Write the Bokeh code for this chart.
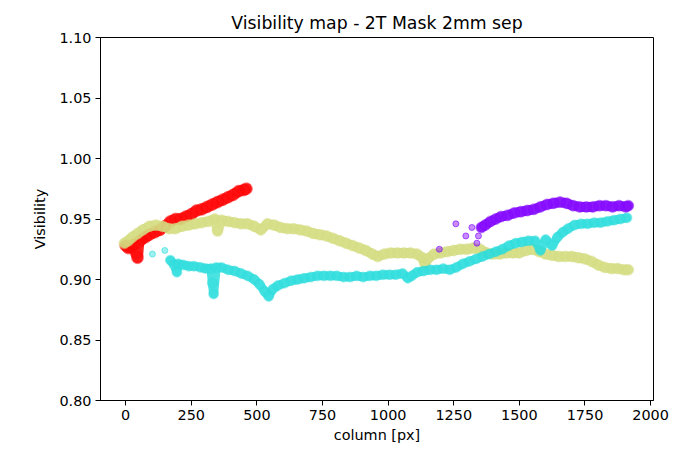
from bokeh.plotting import figure
from bokeh.models import FixedTicker, NumeralTickFormatter, Range1d
from bokeh.embed import file_html
from bokeh.resources import INLINE

# Visibility per column for each fringe track (column [px], visibility)
red_col = [0, 10, 20, 30, 40, 45, 50, 60, 75, 90, 110, 130, 150, 170, 190, 210, 230,
           250, 270, 290, 310, 330, 350, 370, 390, 410, 430, 450, 460]
red_vis = [0.928, 0.926, 0.927, 0.929, 0.922, 0.918, 0.931, 0.933, 0.935, 0.937, 0.939,
           0.941, 0.944, 0.948, 0.950, 0.950, 0.952, 0.954, 0.957, 0.958, 0.960, 0.962,
           0.964, 0.966, 0.968, 0.970, 0.973, 0.974, 0.975]

olive_col = [-5, 10, 25, 45, 65, 90, 115, 140, 165, 190, 215, 240, 265, 290, 315, 340, 350,
             365, 390, 415, 440, 465, 490, 515, 540, 565, 590, 615, 640, 665, 690, 715,
             740, 765, 790, 815, 840, 865, 890, 915, 940, 960, 985, 1010, 1035, 1060, 1085,
             1110, 1130, 1140, 1150, 1175, 1200, 1225, 1250, 1275, 1300, 1325, 1350, 1375,
             1400, 1425, 1450, 1475, 1500, 1525, 1550, 1575, 1600, 1625, 1650, 1675, 1700,
             1725, 1750, 1775, 1800, 1825, 1850, 1875, 1900, 1915]
olive_vis = [0.930, 0.932, 0.935, 0.938, 0.941, 0.944, 0.945, 0.944, 0.942, 0.942, 0.944,
             0.945, 0.946, 0.947, 0.948, 0.950, 0.940, 0.949, 0.948, 0.947, 0.946, 0.946,
             0.944, 0.941, 0.946, 0.945, 0.943, 0.942, 0.942, 0.941, 0.940, 0.938, 0.937,
             0.936, 0.934, 0.932, 0.930, 0.928, 0.926, 0.924, 0.921, 0.919, 0.921, 0.922,
             0.922, 0.922, 0.922, 0.921, 0.918, 0.913, 0.917, 0.921, 0.922, 0.923, 0.924,
             0.925, 0.925, 0.926, 0.925, 0.922, 0.921, 0.921, 0.922, 0.922, 0.922, 0.924,
             0.925, 0.923, 0.921, 0.920, 0.919, 0.919, 0.919, 0.918, 0.917, 0.915, 0.912,
             0.910, 0.909, 0.909, 0.908, 0.908]

cyan_col = [170, 185, 195, 200, 220, 240, 260, 285, 305, 325, 330, 335, 345, 365,
            390, 415, 440, 465, 490, 510, 530, 545, 560, 580, 605, 630, 655, 680, 705, 730,
            755, 780, 805, 830, 855, 880, 905, 930, 955, 980, 1005, 1030, 1055, 1075, 1090,
            1110, 1135, 1160, 1185, 1210, 1235, 1260, 1285, 1310, 1335, 1360, 1385, 1410,
            1435, 1460, 1485, 1510, 1535, 1560, 1580, 1600, 1625, 1645, 1665, 1685, 1710,
            1735, 1760, 1785, 1810, 1835, 1860, 1885, 1910]
cyan_vis = [0.916, 0.912, 0.906, 0.913, 0.912, 0.911, 0.911, 0.910, 0.909,
            0.909, 0.897, 0.888, 0.910, 0.910, 0.908, 0.907, 0.905, 0.903, 0.900, 0.896,
            0.890, 0.886, 0.892, 0.895, 0.897, 0.899, 0.900, 0.901, 0.902, 0.903, 0.903,
            0.903, 0.903, 0.902, 0.902, 0.903, 0.902, 0.903, 0.903, 0.904, 0.904, 0.904,
            0.905, 0.901, 0.903, 0.906, 0.907, 0.908, 0.908, 0.909, 0.908, 0.910, 0.913,
            0.915, 0.917, 0.919, 0.921, 0.923, 0.925, 0.928, 0.930, 0.931, 0.932, 0.932,
            0.924, 0.933, 0.928, 0.935, 0.939, 0.942, 0.945, 0.946, 0.946, 0.947, 0.947,
            0.948, 0.949, 0.950, 0.951]
cyan_stray_col = [102, 149]
cyan_stray_vis = [0.921, 0.924]

purple_col = [1355, 1370, 1390, 1410, 1430, 1455, 1480,
              1505, 1530, 1555, 1580, 1605, 1630, 1655, 1680, 1705, 1730, 1755, 1780, 1805,
              1830, 1855, 1880, 1905, 1915]
purple_vis = [0.943, 0.945, 0.948, 0.950, 0.952,
              0.953, 0.955, 0.956, 0.957, 0.958, 0.960, 0.962, 0.963, 0.964, 0.963, 0.961,
              0.960, 0.960, 0.960, 0.961, 0.961, 0.960, 0.961, 0.960, 0.961]
purple_stray_col = [1195, 1258, 1296, 1319, 1338, 1344]
purple_stray_vis = [0.925, 0.946, 0.936, 0.943, 0.930, 0.936]

x_ticks = [0, 250, 500, 750, 1000, 1250, 1500, 1750, 2000]
y_ticks = [0.80, 0.85, 0.90, 0.95, 1.00, 1.05, 1.10]

FONT = "DejaVu Sans"

p = figure(width=689, height=453, output_backend="svg", toolbar_location=None,
           x_range=Range1d(-96, 2011), y_range=Range1d(0.80, 1.10),
           title="Visibility map - 2T Mask 2mm sep",
           min_border_left=100, min_border_right=36, min_border_top=37, min_border_bottom=53)

p.title.align = "center"
p.title.text_font = FONT
p.title.text_font_size = "17.3px"
p.title.text_font_style = "normal"
p.title.text_color = "black"

p.background_fill_color = "white"
p.border_fill_color = "white"
p.outline_line_color = "black"
p.outline_line_width = 1
p.grid.visible = False

for ax in (p.xaxis[0], p.yaxis[0]):
    ax.major_tick_in = 0
    ax.major_tick_out = 5
    ax.minor_tick_in = 0
    ax.minor_tick_out = 0
    ax.major_tick_line_color = "black"
    ax.axis_line_color = "black"
    ax.major_label_text_font = FONT
    ax.major_label_text_font_size = "14.4px"
    ax.major_label_text_color = "black"
    ax.axis_label_text_font = FONT
    ax.axis_label_text_font_size = "14.4px"
    ax.axis_label_text_font_style = "normal"
    ax.axis_label_text_color = "black"
    ax.major_label_standoff = 4

p.xaxis.ticker = FixedTicker(ticks=x_ticks)
p.yaxis.ticker = FixedTicker(ticks=y_ticks)
p.yaxis.formatter = NumeralTickFormatter(format="0.00")
p.xaxis.axis_label = "column [px]"
p.yaxis.axis_label = "Visibility"
p.xaxis.axis_label_standoff = 4
p.yaxis.axis_label_standoff = 8

# Each track: a dense band of overlapping semi-transparent points
tracks = [
    (red_col, red_vis, "#ff0000", 11),
    (olive_col, olive_vis, "#d4dd80", 10),
    (cyan_col, cyan_vis, "#2bdddd", 9),
    (purple_col, purple_vis, "#8000ff", 10),
]
for cols, vis, color, band in tracks:
    p.line(cols, vis, line_color=color, line_width=band, line_alpha=0.85,
           line_join="round", line_cap="round")
    p.scatter(cols, vis, size=band + 1, fill_color=color, fill_alpha=0.35,
              line_color=color, line_alpha=0.4, line_width=1)

# Isolated samples away from the main bands
for cols, vis, color in [(cyan_stray_col, cyan_stray_vis, "#2bdddd"),
                         (purple_stray_col, purple_stray_vis, "#8000ff")]:
    p.scatter(cols, vis, size=6, fill_color=color, fill_alpha=0.45,
              line_color=color, line_alpha=0.6, line_width=1)

open("out.html", "w").write(file_html(p, INLINE))
